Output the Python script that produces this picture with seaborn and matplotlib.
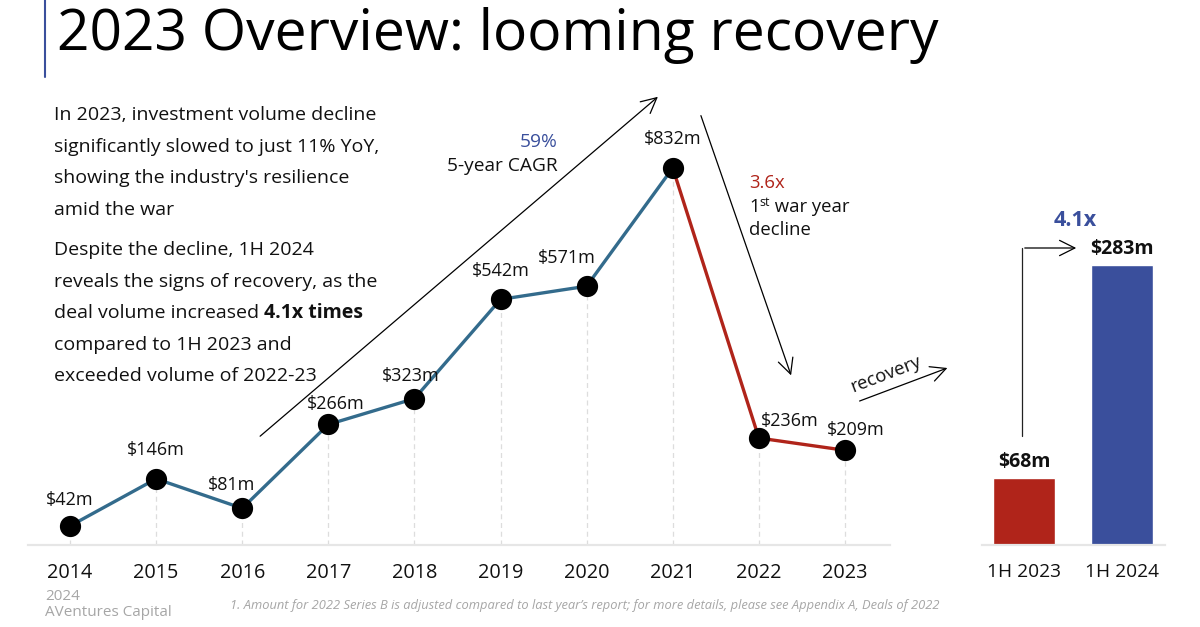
import matplotlib
matplotlib.use("Agg")
import matplotlib.pyplot as plt
import seaborn as sns
import pandas as pd

years = [2014, 2015, 2016, 2017, 2018, 2019, 2020, 2021, 2022, 2023]
volumes = [42, 146, 81, 266, 323, 542, 571, 832, 236, 209]
labelOffsets = [(0, 12), (0, 14), (-8, 10), (5, 8), (-3, 10), (0, 14), (-14, 14), (0, 14), (22, 6), (8, 8)]

halfLabels = ['1H 2023', '1H 2024']
halfVolumes = [68, 283]

BLUE_LINE = '#336b8c'
RED = '#b0241a'
BAR_BLUE = '#3a4f9c'
TEXT_BLUE = '#3a4f9c'
GREY = '#e6e6e6'

W, H = 1200, 627


def px(x, y):
    # pixel position (from top-left) -> figure fraction
    return x / W, 1 - y / H


def axrect(left, top, right, bottom):
    return [left / W, 1 - bottom / H, (right - left) / W, (bottom - top) / H]


sns.set_theme(style='white')
plt.rcParams['font.family'] = ['Open Sans', 'DejaVu Sans']

fig = plt.figure(figsize=(12, 6.27), dpi=100)

# ---------- line chart ----------
ax = fig.add_axes(axrect(28, 80, 890, 545))
df = pd.DataFrame({'year': years, 'volume': volumes})
blue_part = df[df.year <= 2021]
red_part = df[df.year >= 2021]

for x, y in zip(years, volumes):
    ax.plot([x, x], [0, y], color='#dddddd', lw=0.9, ls=(0, (4, 3)), zorder=1)

sns.lineplot(data=blue_part, x='year', y='volume', color=BLUE_LINE, lw=2.4, ax=ax, zorder=2)
sns.lineplot(data=red_part, x='year', y='volume', color=RED, lw=2.4, ax=ax, zorder=2)
sns.scatterplot(data=df, x='year', y='volume', color='black', s=200, edgecolor='black', ax=ax, zorder=3)

for (x, y), off in zip(zip(years, volumes), labelOffsets):
    ax.annotate(f'${y}m', (x, y), xytext=off, textcoords='offset points',
                ha='center', va='bottom', fontsize=13, color='#111111')

ax.set_xlim(2013.512, 2023.523)
ax.set_ylim(0, 1026)
ax.set_xticks(years)
ax.set_xticklabels([str(y) for y in years], fontsize=14.3, color='#111111')
ax.set_yticks([])
ax.set_xlabel('')
ax.set_ylabel('')
for s in ['top', 'right', 'left']:
    ax.spines[s].set_visible(False)
ax.spines['bottom'].set_color(GREY)
ax.spines['bottom'].set_linewidth(1.6)
ax.tick_params(axis='x', length=0, pad=13)
ax.patch.set_alpha(0)

# ---------- 1H bars ----------
bx = fig.add_axes(axrect(982, 80, 1165, 545))
bdf = pd.DataFrame({'period': halfLabels, 'volume': halfVolumes})
sns.barplot(data=bdf, x='period', y='volume', hue='period', palette=[RED, BAR_BLUE],
            width=0.64, saturation=1, legend=False, ax=bx)
for i, v in enumerate(halfVolumes):
    bx.annotate(f'${v}m', (i, v), xytext=(0, 4), textcoords='offset points',
                ha='center', va='bottom', fontsize=14, fontweight='bold', color='#111111')
bx.set_xlim(-0.43, 1.44)
bx.set_ylim(0, 470)
bx.set_yticks([])
bx.set_xlabel('')
bx.set_ylabel('')
bx.tick_params(axis='x', length=0, pad=13, labelsize=13.8, labelcolor='#111111')
for s in ['top', 'right', 'left']:
    bx.spines[s].set_visible(False)
bx.spines['bottom'].set_color(GREY)
bx.spines['bottom'].set_linewidth(1.6)
bx.patch.set_alpha(0)

# ---------- title & side bar ----------
fig.add_artist(plt.Line2D([45 / W, 45 / W], [1 - 77 / H, 1], color=TEXT_BLUE, lw=1.5))
fig.text(*px(57, 35), '2023 Overview: looming recovery', fontsize=41, va='center', ha='left', color='black')

# ---------- left commentary ----------
para = ['In 2023, investment volume decline',
        'significantly slowed to just 11% YoY,',
        "showing the industry's resilience",
        'amid the war']
para2 = ['Despite the decline, 1H 2024',
         'reveals the signs of recovery, as the',
         None,
         'compared to 1H 2023 and',
         'exceeded volume of 2022-23']
tsize = 14
for i, line in enumerate(para):
    fig.text(*px(54, 115 + i * 31.7), line, fontsize=tsize, va='center', color='#111111')
renderer = fig.canvas.get_renderer()
for i, line in enumerate(para2):
    yy = 250 + i * 31.6
    if line is None:
        t = fig.text(*px(54, yy), 'deal volume increased ', fontsize=tsize, va='center', color='#111111')
        bb = t.get_window_extent(renderer)
        fig.text(bb.x1 / W, 1 - yy / H, '4.1x times', fontsize=tsize, fontweight='bold',
                 va='center', color='#111111')
    else:
        fig.text(*px(54, yy), line, fontsize=tsize, va='center', color='#111111')

# ---------- arrows and notes ----------
arrow = dict(arrowstyle='->,head_length=1.1,head_width=0.55', color='black', lw=0.9)
fig.add_artist(matplotlib.patches.FancyArrowPatch(px(258, 438), px(660, 95), transform=fig.transFigure,
                                                  mutation_scale=10, **arrow))
fig.text(*px(558, 142), '59%', fontsize=13.8, ha='right', va='center', color=TEXT_BLUE)
fig.text(*px(558, 166), '5-year CAGR', fontsize=13.8, ha='right', va='center', color='#111111')

fig.add_artist(matplotlib.patches.FancyArrowPatch(px(700, 113), px(792, 378), transform=fig.transFigure,
                                                  mutation_scale=10, **arrow))
fig.text(*px(749, 183), '3.6x', fontsize=13.3, ha='left', va='center', color=RED)
t1 = fig.text(*px(749, 207), '1', fontsize=13.3, ha='left', va='center', color='#111111')
bb = t1.get_window_extent(renderer)
t2 = fig.text(bb.x1 / W, 1 - 203 / H, 'st', fontsize=9, ha='left', va='center', color='#111111')
bb = t2.get_window_extent(renderer)
fig.text(bb.x1 / W, 1 - 207 / H, ' war year', fontsize=13.3, ha='left', va='center', color='#111111')
fig.text(*px(749, 230), 'decline', fontsize=13.3, ha='left', va='center', color='#111111')

fig.add_artist(matplotlib.patches.FancyArrowPatch(px(857, 402), px(950, 367), transform=fig.transFigure,
                                                  mutation_scale=10, **arrow))
fig.text(*px(886, 374), 'recovery', fontsize=13.3, ha='center', va='center', rotation=21, color='#111111')

# elbow arrow over bars
fig.add_artist(plt.Line2D([1022 / W, 1022 / W], [1 - 436 / H, 1 - 248 / H], color='#222222', lw=0.9))
fig.add_artist(matplotlib.patches.FancyArrowPatch(px(1022, 248), px(1079, 248), transform=fig.transFigure,
                                                  mutation_scale=10, **arrow))
fig.text(*px(1075, 221), '4.1x', fontsize=15.5, fontweight='bold', ha='center', va='center', color=TEXT_BLUE)

# ---------- footer ----------
fig.text(*px(45, 596), '2024', fontsize=11, color='#a6a6a6', va='center')
fig.text(*px(45, 613), 'AVentures Capital', fontsize=11, color='#a6a6a6', va='center')
fig.text(*px(230, 606), "1. Amount for 2022 Series B is adjusted compared to last year\u2019s report; for more details, please see Appendix A, Deals of 2022",
         fontsize=9.3, style='italic', color='#a6a6a6', va='center')

fig.savefig('out.png', dpi=100)
